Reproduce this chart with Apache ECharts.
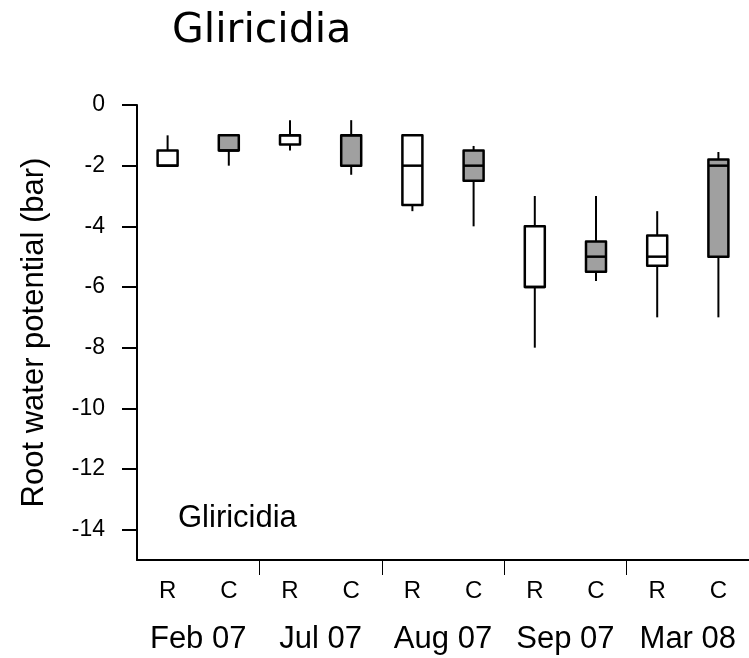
<!DOCTYPE html>
<html>
<head>
<meta charset="utf-8">
<title>Gliricidia root water potential</title>
<script src="https://cdn.jsdelivr.net/npm/echarts@6/dist/echarts.min.js"></script>
<style>
  html, body { margin: 0; padding: 0; background: #fff; }
  #chart { width: 749px; height: 658px; }
</style>
</head>
<body>
<div id="chart"></div>
<script>
// Sampling dates and treatments (R / C) per date
const months = ['Feb 07', 'Jul 07', 'Aug 07', 'Sep 07', 'Mar 08'];
const treatments = ['R', 'C', 'R', 'C', 'R', 'C', 'R', 'C', 'R', 'C'];

// Box statistics (bar), one entry per treatment position
const whiskerLow  = [-2,   -2,   -1.5, -2.3, -3.5, -4,   -8,  -5.8, -7,   -7];
const quartile1   = [-2,   -1.5, -1.3, -2,   -3.3, -2.5, -6,  -5.5, -5.3, -5];
const medians     = [-2,   -1.5, -1,   -1,   -2,   -2,   -6,  -5,   -5,   -2];
const quartile3   = [-1.5, -1,   -1,   -1,   -1,   -1.5, -4,  -4.5, -4.3, -1.8];
const whiskerHigh = [-1,   -1,   -0.5, -0.5, -1,   -1.35, -3, -3,   -3.5, -1.55];

const yTickValues = [0, -2, -4, -6, -8, -10, -12, -14];
const groupBoundaries = [2, 4, 6, 8];

const boxData = treatments.map((t, i) => [i, whiskerLow[i], quartile1[i], medians[i], quartile3[i], whiskerHigh[i]]);

const FONT = 'Liberation Sans, Arial, sans-serif';
const chart = echarts.init(document.getElementById('chart'));

// Box with plain whiskers (no end caps), grey fill for C, white for R
function renderBox(params, api) {
  const idx = api.value(0);
  const cMin = api.coord([idx, api.value(1)]);
  const cQ1 = api.coord([idx, api.value(2)]);
  const cMed = api.coord([idx, api.value(3)]);
  const cQ3 = api.coord([idx, api.value(4)]);
  const cMax = api.coord([idx, api.value(5)]);
  const x = cQ1[0];
  const halfW = 10;
  const fill = treatments[idx] === 'C' ? '#a0a0a0' : '#ffffff';
  const whisker = { stroke: '#000', lineWidth: 2 };
  return {
    type: 'group',
    children: [
      { type: 'line', shape: { x1: x, y1: cMax[1], x2: x, y2: cQ3[1] }, style: whisker },
      { type: 'line', shape: { x1: x, y1: cQ1[1], x2: x, y2: cMin[1] }, style: whisker },
      {
        type: 'rect',
        shape: { x: x - halfW, y: cQ3[1], width: halfW * 2, height: cQ1[1] - cQ3[1] },
        style: { fill: fill, stroke: '#000', lineWidth: 2.5, lineJoin: 'round' }
      },
      { type: 'line', shape: { x1: x - halfW, y1: cMed[1], x2: x + halfW, y2: cMed[1] }, style: { stroke: '#000', lineWidth: 2.5 } }
    ]
  };
}

chart.setOption({
  animation: false,
  backgroundColor: '#fff',
  title: [
    {
      text: 'Gliricidia',
      left: 167,
      top: 6,
      textStyle: { fontFamily: 'DejaVu Sans', fontWeight: 'normal', fontSize: 41, color: '#000' }
    },
    {
      text: 'Gliricidia',
      left: 173,
      top: 498,
      textStyle: { fontFamily: FONT, fontWeight: 'normal', fontSize: 31, color: '#000' }
    }
  ],
  grid: { left: 137, right: 0, top: 105, bottom: 98, containLabel: false },
  xAxis: [
    {
      type: 'category',
      data: treatments,
      boundaryGap: true,
      axisLine: { show: true, onZero: false, lineStyle: { color: '#000', width: 2 } },
      axisTick: { show: false },
      axisLabel: { color: '#000', fontFamily: FONT, fontSize: 24, margin: 19, interval: 0 },
      splitLine: { show: false }
    },
    {
      type: 'category',
      data: months,
      position: 'bottom',
      boundaryGap: true,
      axisLine: { show: false, onZero: false },
      axisTick: { show: false },
      axisLabel: { color: '#000', fontFamily: FONT, fontSize: 31, margin: 64, interval: 0 },
      splitLine: { show: false }
    },
    {
      type: 'value',
      min: 0,
      max: 10,
      position: 'bottom',
      axisLine: { show: false, onZero: false },
      axisTick: { show: true, length: 15, inside: false, customValues: groupBoundaries, lineStyle: { color: '#000', width: 1 } },
      axisLabel: { show: false },
      splitLine: { show: false }
    }
  ],
  yAxis: {
    type: 'value',
    min: -15,
    max: 0,
    name: 'Root water potential (bar)',
    nameLocation: 'middle',
    nameGap: 87,
    nameTextStyle: { color: '#000', fontFamily: FONT, fontSize: 31 },
    axisLine: { show: true, onZero: false, lineStyle: { color: '#000', width: 2 } },
    axisTick: { show: true, length: 15, customValues: yTickValues, lineStyle: { color: '#000', width: 2 } },
    axisLabel: { color: '#000', fontFamily: FONT, fontSize: 23, margin: 32, customValues: yTickValues },
    splitLine: { show: false }
  },
  series: [
    {
      type: 'custom',
      xAxisIndex: 0,
      yAxisIndex: 0,
      renderItem: renderBox,
      encode: { x: 0, y: [1, 2, 3, 4, 5] },
      data: boxData
    }
  ]
});
</script>
</body>
</html>
